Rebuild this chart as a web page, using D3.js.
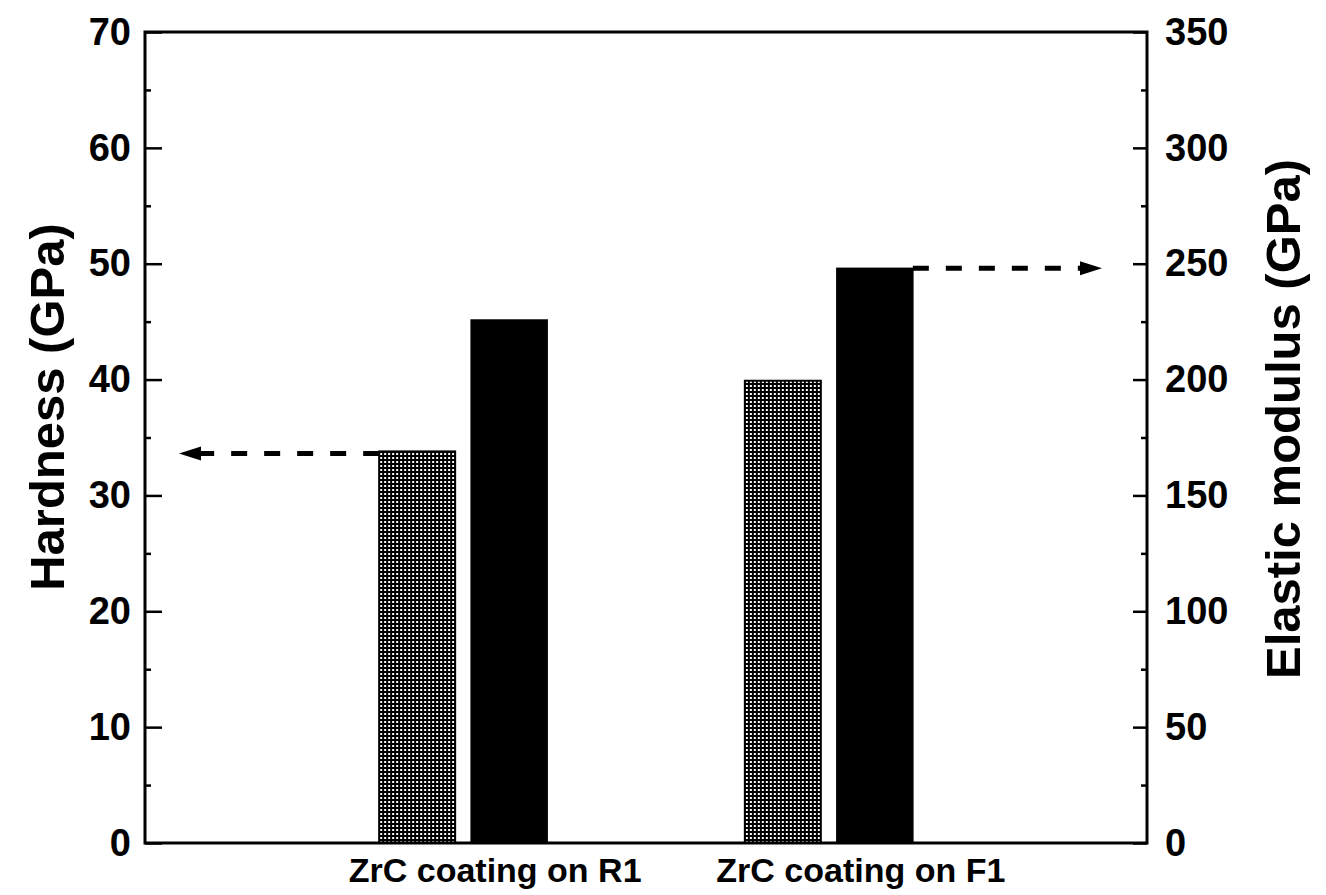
<!DOCTYPE html>
<html>
<head>
<meta charset="utf-8">
<script src="https://cdn.jsdelivr.net/npm/d3@7"></script>
<style>
  html, body { margin: 0; padding: 0; background: #fff; }
  svg { display: block; font-family: Arial, "Liberation Sans", sans-serif; }
</style>
</head>
<body>
<script>
// ---- data ----
const categories = ["ZrC coating on R1", "ZrC coating on F1"];
const series = ["Hardness", "Elastic modulus"];
const hardness = [33.8, 39.9];        // GPa, left axis
const elasticModulus = [225.7, 248];  // GPa, right axis
const hardnessTicks = [0, 10, 20, 30, 40, 50, 60, 70];
const modulusTicks = [0, 50, 100, 150, 200, 250, 300, 350];
const hardnessMinor = [5, 15, 25, 35, 45, 55, 65];
const modulusMinor = [25, 75, 125, 175, 225, 275, 325];

const W = 1326, H = 895;
const m = { left: 145, right: 1147, top: 32, bottom: 843 };

const svg = d3.select("body").append("svg").attr("width", W).attr("height", H);

const defs = svg.append("defs");
const pat = defs.append("pattern").attr("id", "dots")
  .attr("patternUnits", "userSpaceOnUse").attr("width", 4).attr("height", 4);
pat.append("rect").attr("width", 4).attr("height", 4).attr("fill", "#000");
pat.append("rect").attr("x", 1).attr("y", 1).attr("width", 2).attr("height", 2).attr("fill", "#fff");

const yH = d3.scaleLinear().domain([0, 70]).range([m.bottom, m.top]);
const yE = d3.scaleLinear().domain([0, 350]).range([m.bottom, m.top]);
const x0 = d3.scalePoint().domain(categories).range([m.left, m.right]).padding(0.87);
const x1 = d3.scaleBand().domain(series).range([-84, 84]).paddingInner(0.174).paddingOuter(0);

// bars
const groups = svg.append("g").selectAll("g").data(categories).join("g")
  .attr("transform", d => `translate(${x0(d)},0)`);
groups.append("rect")
  .attr("x", x1("Hardness")).attr("width", x1.bandwidth())
  .attr("y", (d, i) => yH(hardness[i])).attr("height", (d, i) => yH(0) - yH(hardness[i]))
  .attr("fill", "url(#dots)").attr("stroke", "#000").attr("stroke-width", 2);
groups.append("rect")
  .attr("x", x1("Elastic modulus")).attr("width", x1.bandwidth())
  .attr("y", (d, i) => yE(elasticModulus[i])).attr("height", (d, i) => yE(0) - yE(elasticModulus[i]))
  .attr("fill", "#000").attr("stroke", "#000").attr("stroke-width", 1.5);

// axes
const fontTick = 38;
svg.append("g").attr("transform", `translate(${m.left},0)`)
  .call(d3.axisLeft(yH).tickValues(hardnessTicks).tickSize(-17).tickPadding(14).tickFormat(d3.format("d")));
svg.append("g").attr("transform", `translate(${m.left},0)`)
  .call(d3.axisLeft(yH).tickValues(hardnessMinor).tickSize(-6).tickFormat(""));
svg.append("g").attr("transform", `translate(${m.right},0)`)
  .call(d3.axisRight(yE).tickValues(modulusTicks).tickSize(-14).tickPadding(18).tickFormat(d3.format("d")));
svg.append("g").attr("transform", `translate(${m.right},0)`)
  .call(d3.axisRight(yE).tickValues(modulusMinor).tickSize(-6).tickFormat(""));
svg.selectAll(".domain").remove();
svg.selectAll(".tick line").attr("stroke", "#000").attr("stroke-width", 2.5);
svg.selectAll(".tick text").attr("font-size", fontTick).attr("font-weight", "bold")
  .attr("font-family", 'Arial, "Liberation Sans", sans-serif').attr("fill", "#000");

// frame
svg.append("rect").attr("x", m.left).attr("y", m.top)
  .attr("width", m.right - m.left).attr("height", m.bottom - m.top)
  .attr("fill", "none").attr("stroke", "#000").attr("stroke-width", 3);

// category labels
svg.append("g").selectAll("text").data(categories).join("text")
  .attr("x", d => x0(d) + 32).attr("y", 882)
  .attr("text-anchor", "middle").attr("font-size", 34).attr("font-weight", "bold")
  .text(d => d);

// axis titles
svg.append("text").attr("transform", "translate(64,407) rotate(-90)")
  .attr("text-anchor", "middle").attr("font-size", 49).attr("font-weight", "bold")
  .text("Hardness (GPa)");
svg.append("text").attr("transform", "translate(1300,419) rotate(-90)")
  .attr("text-anchor", "middle").attr("font-size", 49).attr("font-weight", "bold")
  .text("Elastic modulus (GPa)");

// dashed arrows
function arrow(xStart, xTip, y) {
  const dir = Math.sign(xTip - xStart);
  const headLen = 22, headHalf = 7;
  svg.append("line")
    .attr("x1", xStart).attr("x2", xTip - dir * headLen * 0.6).attr("y1", y).attr("y2", y)
    .attr("stroke", "#000").attr("stroke-width", 5).attr("stroke-dasharray", "16,17");
  svg.append("path")
    .attr("d", `M${xTip},${y} L${xTip - dir * headLen},${y - headHalf} L${xTip - dir * headLen},${y + headHalf} Z`)
    .attr("fill", "#000");
}
const xGrayR1 = x0(categories[0]) + x1("Hardness");
arrow(xGrayR1, 179, yH(hardness[0]) + 2);
const xBlackF1 = x0(categories[1]) + x1("Elastic modulus") + x1.bandwidth();
arrow(xBlackF1, 1102, yE(elasticModulus[1]));
</script>
</body>
</html>
